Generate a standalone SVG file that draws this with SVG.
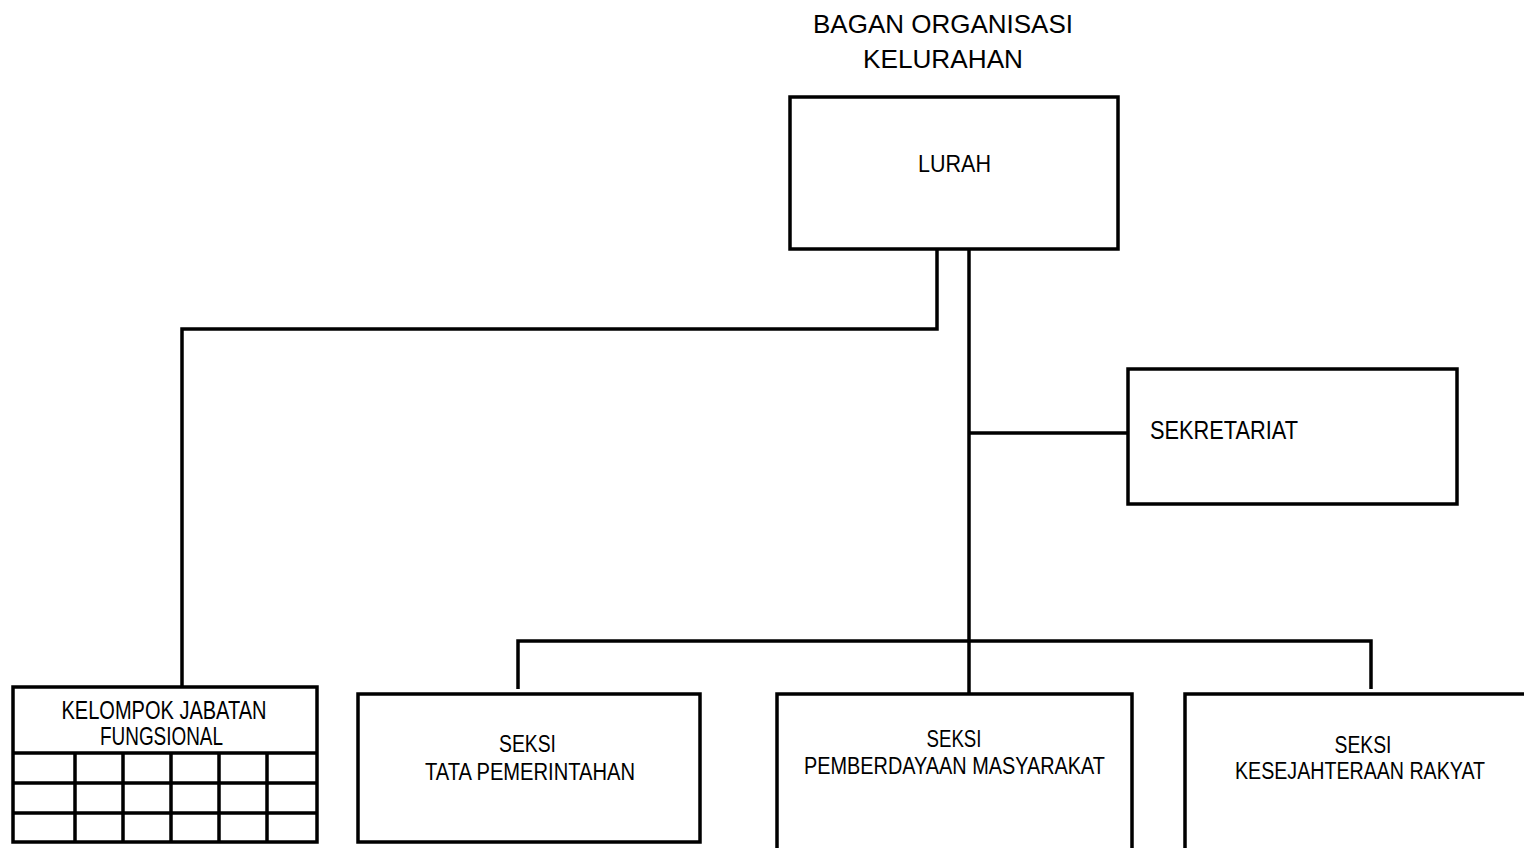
<svg xmlns="http://www.w3.org/2000/svg" width="1524" height="848" viewBox="0 0 1524 848">
<style>
.box{fill:#fff;stroke:#000;stroke-width:3.5}
.open{fill:#fff;stroke:#000;stroke-width:3.5;stroke-linejoin:miter}
.ln{fill:none;stroke:#000;stroke-width:3.5}
.conn{fill:none;stroke:#000;stroke-width:3.5;stroke-linejoin:miter}
text{font-family:"Liberation Sans",Arial,sans-serif;fill:#000}
.c{text-anchor:middle}
.s{font-size:23.5px}
</style>
<rect width="1524" height="848" fill="#fff"/>
<g id="title">
<text class="c" x="943" y="33" font-size="25.6" textLength="260" lengthAdjust="spacingAndGlyphs">BAGAN ORGANISASI</text>
<text class="c" x="943" y="68" font-size="25.6" textLength="160" lengthAdjust="spacingAndGlyphs">KELURAHAN</text>
</g>
<g id="connectors">
<path class="conn" d="M937,249 V329 H182 V687"/>
<path class="conn" d="M969,249 V694"/>
<path class="conn" d="M969,433 H1128"/>
<path class="conn" d="M518,689 V641 H1371 V689"/>
</g>
<g id="lurah">
<rect class="box" x="790" y="97" width="328" height="152"/>
<text class="c" x="954.5" y="172" font-size="24" textLength="73" lengthAdjust="spacingAndGlyphs">LURAH</text>
</g>
<g id="sekretariat">
<rect class="box" x="1128" y="369" width="329" height="135"/>
<text x="1150" y="439" font-size="26.5" textLength="148" lengthAdjust="spacingAndGlyphs">SEKRETARIAT</text>
</g>
<g id="kelompok-jabatan-fungsional">
<rect class="box" x="13" y="687" width="304" height="155"/>
<path class="ln" d="M13,753 H317 M13,783 H317 M13,813 H317 M75,753 V842 M123,753 V842 M171,753 V842 M219,753 V842 M267,753 V842"/>
<text class="c" x="164" y="719" font-size="25" textLength="205" lengthAdjust="spacingAndGlyphs">KELOMPOK JABATAN</text>
<text class="c" x="161.5" y="745" font-size="25" textLength="123" lengthAdjust="spacingAndGlyphs">FUNGSIONAL</text>
</g>
<g id="seksi-tata-pemerintahan">
<rect class="box" x="358" y="694" width="342" height="148"/>
<text class="c s" x="527.5" y="752" textLength="57" lengthAdjust="spacingAndGlyphs">SEKSI</text>
<text class="c s" x="530" y="780" textLength="210" lengthAdjust="spacingAndGlyphs">TATA PEMERINTAHAN</text>
</g>
<g id="seksi-pemberdayaan-masyarakat">
<path class="open" d="M777,848 V694 H1132 V848"/>
<text class="c s" x="954" y="747" textLength="55" lengthAdjust="spacingAndGlyphs">SEKSI</text>
<text class="c s" x="954.5" y="774" textLength="301" lengthAdjust="spacingAndGlyphs">PEMBERDAYAAN MASYARAKAT</text>
</g>
<g id="seksi-kesejahteraan-rakyat">
<path class="open" d="M1185,848 V694 H1524"/>
<text class="c s" x="1363" y="753" textLength="57" lengthAdjust="spacingAndGlyphs">SEKSI</text>
<text class="c s" x="1360" y="779" textLength="250" lengthAdjust="spacingAndGlyphs">KESEJAHTERAAN RAKYAT</text>
</g>
</svg>
